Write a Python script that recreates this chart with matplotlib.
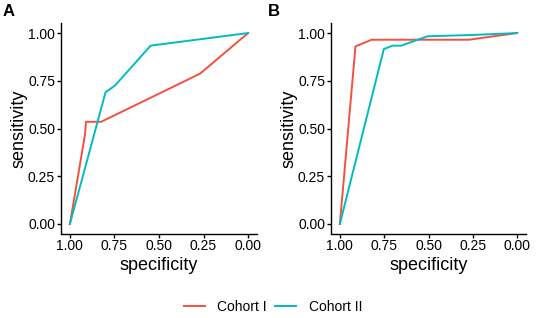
import matplotlib.pyplot as plt
from matplotlib.lines import Line2D

plt.rcParams['font.family'] = ['Liberation Sans', 'DejaVu Sans']

# --- dados ---
# Painel A
a_c1_spec = [1.00, 0.915, 0.91, 0.825, 0.27, 0.00]
a_c1_sens = [0.00, 0.47, 0.535, 0.535, 0.787, 1.00]
a_c2_spec = [1.00, 0.80, 0.748, 0.547, 0.00]
a_c2_sens = [0.00, 0.69, 0.724, 0.934, 1.00]

# Painel B
b_c1_spec = [1.00, 0.912, 0.821, 0.273, 0.00]
b_c1_sens = [0.00, 0.930, 0.965, 0.965, 1.00]
b_c2_spec = [1.00, 0.752, 0.703, 0.654, 0.506, 0.25, 0.00]
b_c2_sens = [0.00, 0.916, 0.934, 0.934, 0.983, 0.99, 1.00]

ticks = [1.00, 0.75, 0.50, 0.25, 0.00]
tick_labels = ["1.00", "0.75", "0.50", "0.25", "0.00"]
cohorts = ["Cohort I", "Cohort II"]
cores = ["#F5503F", "#00BBC0"]

W, H = 536, 318
fig = plt.figure(figsize=(W / 100, H / 100), dpi=100)


def painel(x0, x1, dados, letra, lx):
    ax = fig.add_axes([x0 / W, (H - 233.5) / H, (x1 - x0) / W, 210 / H])
    for (sx, sy), cor in zip(dados, cores):
        ax.plot(sx, sy, color=cor, lw=1.4, solid_joinstyle="round")
    ax.set_xlim(1.05, -0.05)
    ax.set_ylim(-0.05, 1.05)
    ax.set_xticks(ticks)
    ax.set_xticklabels(tick_labels)
    ax.set_yticks(ticks)
    ax.set_yticklabels(tick_labels)
    for s in ["top", "right"]:
        ax.spines[s].set_visible(False)
    for s in ["left", "bottom"]:
        ax.spines[s].set_linewidth(1.0)
    ax.tick_params(labelsize=10, length=2.8, width=1.0, pad=1.5, colors="black")
    ax.set_xlabel("specificity", fontsize=13, labelpad=2.5)
    ax.set_ylabel("sensitivity", fontsize=13, labelpad=0)
    fig.text(lx / W, 1 - 11 / H, letra, fontsize=12, fontweight="bold", va="center")
    return ax


painel(61, 257, [(a_c1_spec, a_c1_sens), (a_c2_spec, a_c2_sens)], "A", 3)
painel(331, 526, [(b_c1_spec, b_c1_sens), (b_c2_spec, b_c2_sens)], "B", 268)

handles = [Line2D([], [], color=c, lw=1.4) for c in cores]
fig.legend(handles, cohorts, loc="center", bbox_to_anchor=(273 / W, 11 / H),
           ncol=2, frameon=False, fontsize=10, handlelength=1.5,
           handletextpad=0.9, columnspacing=0.6)

fig.savefig("out.png", dpi=100)
